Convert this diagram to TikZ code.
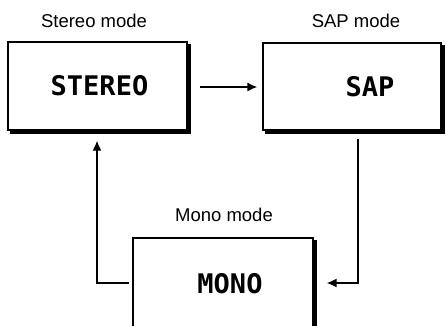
\documentclass[tikz,border=0pt]{standalone}
\usepackage{fontspec}
\setmainfont{Liberation Sans}
\newfontfamily\boxfont{DejaVu Sans Mono}
\usetikzlibrary{arrows.meta}
\begin{document}
\begin{tikzpicture}[x=1pt,y=-1pt,
  modebox/.style={draw=black, line width=1.2pt, fill=white, inner sep=0pt,
    font=\boxfont\bfseries\fontsize{27}{27}\selectfont},
  shadowline/.style={line width=3.6pt, line join=miter},
  modelabel/.style={font=\fontsize{18.5}{20}\selectfont, inner sep=0pt},
  flow/.style={line width=1.7pt, -{Latex[length=10pt,width=9pt]}}]
\clip (0,0) rectangle (447,326);
\node[modebox, minimum width=179pt, minimum height=88pt] (stereo) at (97.5,86) {\hspace*{4pt}STEREO};
\node[modebox, minimum width=178pt, minimum height=87pt] (sap) at (352,86.5) {\hspace*{36pt}SAP};
\node[modebox, minimum width=180pt, minimum height=92pt] (mono) at (223,284) {\hspace*{14pt}MONO};
\foreach \b in {stereo,sap,mono}{
  \draw[shadowline] ([xshift=1.6pt,yshift=-3pt]\b.north east) -- ([xshift=1.6pt,yshift=-1.6pt]\b.south east) -- ([xshift=3pt,yshift=-1.6pt]\b.south west);
}
\node[modelabel] (lstereo) at (94,21) {Stereo mode};
\node[modelabel] (lsap) at (356,21) {SAP mode};
\node[modelabel] (lmono) at (224,215) {Mono mode};
\draw[flow, shorten <=12pt, shorten >=5pt] ([yshift=-1pt]stereo.east) -- ([yshift=-1pt]sap.west |- stereo.east);
\draw[flow] ([xshift=6pt,yshift=-8pt]sap.south) |- ([xshift=13pt,yshift=1pt]mono.east);
\draw[flow] ([xshift=-3pt,yshift=1pt]mono.west) -| ([xshift=-0.5pt,yshift=-10pt]stereo.south);
\end{tikzpicture}
\end{document}
